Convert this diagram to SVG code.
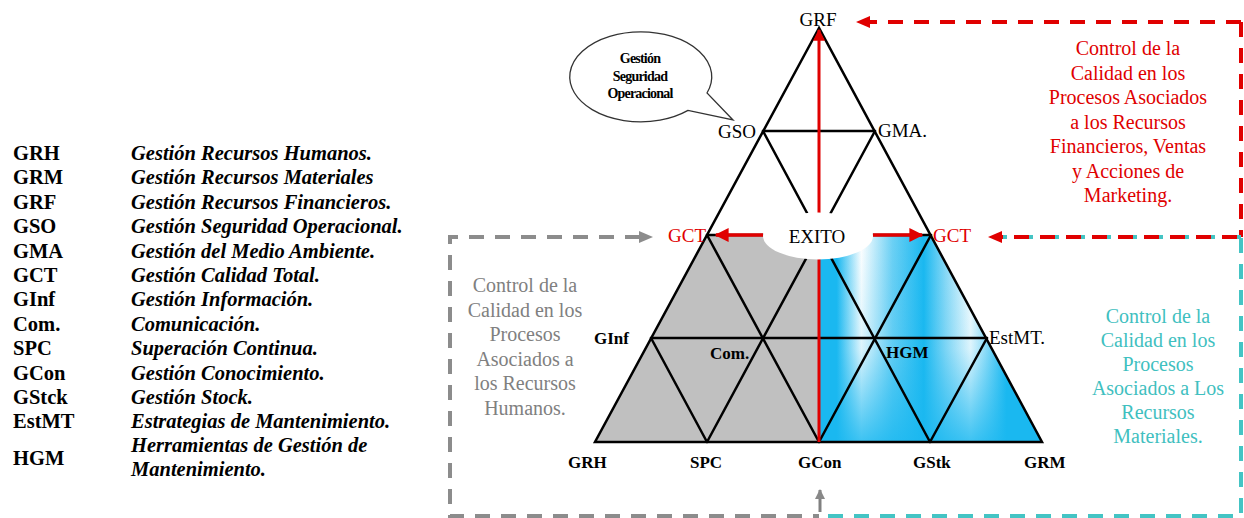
<svg xmlns="http://www.w3.org/2000/svg" width="1244" height="518" viewBox="0 0 1244 518">
<style>
text{font-family:"Liberation Serif","Times New Roman",serif;}
.ab{font-size:20.5px;font-weight:bold;fill:#000;}
.ds{font-size:20.5px;font-weight:bold;font-style:italic;fill:#000;}
.lb{font-size:17px;font-weight:bold;fill:#000;}
.lr{font-size:19px;fill:#000;}
.red{fill:#e00000;}
.note{font-size:20px;text-anchor:middle;}
.bt{font-size:14px;font-weight:bold;text-anchor:middle;letter-spacing:-0.8px;}
.grid{stroke:#000;stroke-width:2.5;fill:none;stroke-linecap:round;}
.dash{fill:none;stroke-width:4;stroke-dasharray:15 11;}
</style>
<defs>
<linearGradient id="blueH" gradientUnits="userSpaceOnUse" x1="819" y1="0" x2="1042" y2="0">
<stop offset="0" stop-color="#1ab8f0"/>
<stop offset="0.08" stop-color="#1ab8f0"/>
<stop offset="0.19" stop-color="#ffffff"/>
<stop offset="0.33" stop-color="#6cd0f4"/>
<stop offset="0.47" stop-color="#1ab8f0"/>
<stop offset="0.57" stop-color="#8edaf6"/>
<stop offset="0.68" stop-color="#ffffff"/>
<stop offset="0.84" stop-color="#1ab8f0"/>
<stop offset="1" stop-color="#1ab8f0"/>
</linearGradient>
<linearGradient id="blueV" gradientUnits="userSpaceOnUse" x1="0" y1="235" x2="0" y2="442">
<stop offset="0" stop-color="#1ab8f0" stop-opacity="0"/>
<stop offset="0.55" stop-color="#1ab8f0" stop-opacity="0.15"/>
<stop offset="1" stop-color="#1ab8f0" stop-opacity="0.85"/>
</linearGradient>
<marker id="arrR" viewBox="0 0 10 10" refX="9" refY="5" markerWidth="4" markerHeight="4" orient="auto" markerUnits="strokeWidth">
<path d="M0,0 L10,5 L0,10 z" fill="#e00000"/>
</marker>
<marker id="arrG" viewBox="0 0 10 10" refX="9" refY="5" markerWidth="3.5" markerHeight="3.5" orient="auto" markerUnits="strokeWidth">
<path d="M0,0 L10,5 L0,10 z" fill="#888888"/>
</marker>
</defs>

<g id="legend">
<text class="ab" x="13" y="160">GRH</text><text class="ds" x="131" y="160">Gestión Recursos Humanos.</text>
<text class="ab" x="13" y="184.4">GRM</text><text class="ds" x="131" y="184.4">Gestión Recursos Materiales</text>
<text class="ab" x="13" y="208.8">GRF</text><text class="ds" x="131" y="208.8">Gestión Recursos Financieros.</text>
<text class="ab" x="13" y="233.2">GSO</text><text class="ds" x="131" y="233.2">Gestión Seguridad Operacional.</text>
<text class="ab" x="13" y="257.6">GMA</text><text class="ds" x="131" y="257.6">Gestión del Medio Ambiente.</text>
<text class="ab" x="13" y="282">GCT</text><text class="ds" x="131" y="282">Gestión Calidad Total.</text>
<text class="ab" x="13" y="306.4">GInf</text><text class="ds" x="131" y="306.4">Gestión Información.</text>
<text class="ab" x="13" y="330.8">Com.</text><text class="ds" x="131" y="330.8">Comunicación.</text>
<text class="ab" x="13" y="355.2">SPC</text><text class="ds" x="131" y="355.2">Superación Continua.</text>
<text class="ab" x="13" y="379.6">GCon</text><text class="ds" x="131" y="379.6">Gestión Conocimiento.</text>
<text class="ab" x="13" y="404">GStck</text><text class="ds" x="131" y="404">Gestión Stock.</text>
<text class="ab" x="13" y="428.4">EstMT</text><text class="ds" x="131" y="428.4">Estrategias de Mantenimiento.</text>
<text class="ab" x="13" y="465">HGM</text><text class="ds" x="131" y="452">Herramientas de Gestión de</text><text class="ds" x="131" y="476">Mantenimiento.</text>
</g>

<g id="regions">
<polygon points="707,235 819,235 819,442 595,442" fill="#c0c0c0"/>
<polygon points="819,235 931,235 1042,442 819,442" fill="url(#blueH)"/>
<polygon points="819,235 931,235 1042,442 819,442" fill="url(#blueV)"/>
</g>

<g id="connectors">
<g id="lattice" class="grid">
<polygon points="819,28 595,442 1042,442"/>
<line x1="763" y1="131" x2="875" y2="131"/>
<line x1="707" y1="235" x2="931" y2="235"/>
<line x1="651" y1="338" x2="987" y2="338"/>
<line x1="707" y1="442" x2="875" y2="131"/>
<line x1="819" y1="442" x2="931" y2="235"/>
<line x1="930" y1="442" x2="987" y2="338"/>
<line x1="930" y1="442" x2="763" y2="131"/>
<line x1="819" y1="442" x2="707" y2="235"/>
<line x1="707" y1="442" x2="651" y2="338"/>
</g>
<line id="up-arrow" x1="819" y1="442" x2="819" y2="30" stroke="#e00000" stroke-width="3" marker-end="url(#arrR)"/>
<g id="dashed-red">
<path class="dash" stroke="#e00000" d="M1241,22 L868,22"/>
<polygon points="856,22 870,16 870,28" fill="#e00000"/>
<path class="dash" stroke="#e00000" d="M1241,22 L1241,237"/>
</g>
<g id="dashed-mixed">
<path class="dash" stroke="#44c4c4" d="M1241,237 L1000,237" stroke-dasharray="4 24"/>
<path class="dash" stroke="#e00000" d="M1237,237 L1000,237" stroke-dasharray="14 14"/>
<polygon points="988,237 1002,231 1002,243" fill="#e00000"/>
</g>
<g id="dashed-gray">
<path class="dash" stroke="#8c8c8c" d="M640,237 L450,237 L450,516 L819,516"/>
<polygon points="653,237 639,231 639,243" fill="#8c8c8c"/>
<line x1="820" y1="512" x2="820" y2="490" stroke="#808080" stroke-width="3" marker-end="url(#arrG)"/>
</g>
<g id="dashed-teal">
<path class="dash" stroke="#44c4c4" d="M828,516 L1241,516 L1241,237"/>
</g>
</g>

<g id="exito">
<ellipse cx="818" cy="236" rx="55" ry="23.5" fill="#ffffff"/>
<line x1="763" y1="235" x2="716" y2="235" stroke="#e00000" stroke-width="3.5" marker-end="url(#arrR)"/>
<line x1="873" y1="235" x2="922" y2="235" stroke="#e00000" stroke-width="3.5" marker-end="url(#arrR)"/>
<text class="lr" x="817" y="243" text-anchor="middle">EXITO</text>
</g>

<g id="bubble">
<path d="M707,93 A71,45 0 1 0 688,110.4 L733,120 Z" fill="#ffffff" stroke="#333" stroke-width="1.3"/>
<text class="bt" x="640" y="63">Gestión</text>
<text class="bt" x="640" y="81">Seguridad</text>
<text class="bt" x="640" y="98">Operacional</text>
</g>

<g id="node-labels">
<text id="GRF" class="lr" x="818" y="26" text-anchor="middle">GRF</text>
<text id="GSO" class="lr" x="718" y="138">GSO</text>
<text id="GMA" class="lr" x="878" y="137" font-size="16">GMA.</text>
<text id="GCT-l" class="lr red" x="668" y="242">GCT</text>
<text id="GCT-r" class="lr red" x="933" y="242">GCT</text>
<text id="GInf" class="lb" x="594" y="344">GInf</text>
<text id="Com" class="lb" x="710" y="359">Com.</text>
<text id="HGM" class="lb" x="886" y="358">HGM</text>
<text id="EstMT" class="lr" x="989" y="344">EstMT.</text>
<text id="GRH" class="lb" x="568" y="468">GRH</text>
<text id="SPC" class="lb" x="690" y="468">SPC</text>
<text id="GCon" class="lb" x="798" y="468">GCon</text>
<text id="GStk" class="lb" x="913" y="468">GStk</text>
<text id="GRM" class="lb" x="1024" y="468">GRM</text>
</g>

<g id="note-red" class="note red">
<text x="1128" y="55">Control de la</text>
<text x="1128" y="79.5">Calidad en los</text>
<text x="1128" y="104">Procesos Asociados</text>
<text x="1128" y="128.5">a los Recursos</text>
<text x="1128" y="153">Financieros, Ventas</text>
<text x="1128" y="177.5">y Acciones de</text>
<text x="1128" y="202">Marketing.</text>
</g>
<g id="note-gray" class="note" fill="#808080">
<text x="525" y="292">Control de la</text>
<text x="525" y="316.5">Calidad en los</text>
<text x="525" y="341">Procesos</text>
<text x="525" y="365.5">Asociados a</text>
<text x="525" y="390">los Recursos</text>
<text x="525" y="414.5">Humanos.</text>
</g>
<g id="note-teal" class="note" fill="#3fc0c0">
<text x="1158" y="323">Control de la</text>
<text x="1158" y="347">Calidad en los</text>
<text x="1158" y="371">Procesos</text>
<text x="1158" y="395">Asociados a Los</text>
<text x="1158" y="419">Recursos</text>
<text x="1158" y="443">Materiales.</text>
</g>
</svg>
